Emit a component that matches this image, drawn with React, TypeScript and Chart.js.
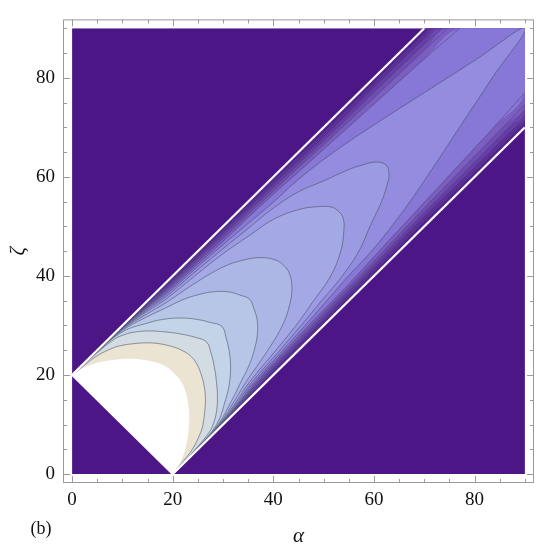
import React, { useEffect, useRef } from 'react';
import { Chart, registerables } from 'chart.js';
Chart.register(...registerables);

type P = [number, number];

// ---- axis ticks ----
const majorTicks = [0, 20, 40, 60, 80];
const minorTicks = [5, 10, 15, 25, 30, 35, 45, 50, 55, 65, 70, 75, 85, 90];
const axisMin = -1.8;
const axisMax = 91.8;

// ---- domain geometry (alpha, zeta) ----
const plotRect: P[] = [[0, 0], [90, 0], [90, 90], [0, 90]];
const band: P[] = [[0, 20], [70, 90], [90, 90], [90, 70], [20, 0]];
const upperEdge: P[] = [[0, 20], [70, 90]];
const lowerEdge: P[] = [[20, 0], [90, 70]];
const cutEdge: P[] = [[0, 20], [20, 0]];
const topRightCorner: P = [90, 90];

// ---- contour levels (outermost L1 -> innermost L14), upper and lower branches ----
const L1_up: P[] = [[0,20],[5,24.98],[10,29.93],[15,34.75],[18.5,38.1],[25,44.45],[30,49.4],[35,54.32],[40,59.25],[45,64.15],[52,71],[60,79.05],[70,89],[71,90]];
const L1_lo: P[] = [[90,71],[89,70],[79.05,60],[71,52],[64.15,45],[59.25,40],[54.32,35],[49.4,30],[44.45,25],[38.1,18.5],[34.75,15],[29.93,10],[24.98,5],[20,0]];
const L2_up: P[] = [[0,20],[5,24.96],[10,29.86],[15,34.5],[18.5,37.7],[25,43.9],[30,48.8],[35,53.65],[40,58.5],[45,63.3],[52,70],[60,78.1],[70,88],[72,90]];
const L2_lo: P[] = [[90,72],[88,70],[78.1,60],[70,52],[63.3,45],[58.5,40],[53.65,35],[48.8,30],[43.9,25],[37.7,18.5],[34.5,15],[29.86,10],[24.96,5],[20,0]];
const L3_up: P[] = [[0,20],[5,24.94],[10,29.79],[15,34.25],[18.5,37.3],[25,43.4],[30,48.2],[35,53],[40,57.8],[45,62.6],[52,69.2],[60,77.1],[70,86.8],[73.3,90]];
const L3_lo: P[] = [[90,73.3],[86.8,70],[77.1,60],[69.2,52],[62.6,45],[57.8,40],[53,35],[48.2,30],[43.4,25],[37.3,18.5],[34.25,15],[29.79,10],[24.94,5],[20,0]];
const L4_up: P[] = [[0,20],[5,24.92],[10,29.72],[15,34],[18.5,36.9],[25,42.9],[30,47.6],[35,52.4],[40,57.15],[45,61.9],[52,68.4],[60,76],[70,85.6],[74.6,90]];
const L4_lo: P[] = [[90,74.6],[85.6,70],[76,60],[68.4,52],[61.9,45],[57.15,40],[52.4,35],[47.6,30],[42.9,25],[36.9,18.5],[34,15],[29.72,10],[24.92,5],[20,0]];
const L5_up: P[] = [[0,20],[5,24.9],[10,29.65],[15,33.8],[18.5,36.5],[25,42.4],[30,47],[35,51.8],[40,56.5],[45,61],[52,67.4],[60,74.7],[70,83.8],[77,90]];
const L5_lo: P[] = [[90,77],[83.8,70],[74.7,60],[67.4,52],[61,45],[56.5,40],[51.8,35],[47,30],[42.4,25],[36.5,18.5],[33.8,15],[29.65,10],[24.9,5],[20,0]];
const L6_up: P[] = [[0,20],[5,24.88],[10,29.55],[15,33.55],[18.5,36.1],[25,41.9],[30,46.3],[35,50.6],[40,54.9],[45,59.5],[52,65],[60,70.5],[70,77],[80,83.5],[90,90]];
const L6_lo: P[] = [[90,90],[83.5,80],[77,70],[70.5,60],[65,52],[59.5,45],[54.9,40],[50.6,35],[46.3,30],[41.9,25],[36.1,18.5],[33.55,15],[29.55,10],[24.88,5],[20,0]];
const L7_up: P[] = [[0,20],[5,24.86],[10,29.45],[15,33.25],[18.5,35.7],[25,41.3],[30,45.5],[35,49.6],[40,53.7],[45,57],[50,59.2],[55,61.5],[58,62.5],[60.5,63],[62.4,62.4]];
const L7_lo: P[] = [[63,60.5],[62.5,58],[61.5,55],[59.2,50],[57,45],[53.7,40],[49.6,35],[45.5,30],[41.3,25],[35.7,18.5],[33.25,15],[29.45,10],[24.86,5],[20,0]];
const L8_up: P[] = [[0,20],[5,24.84],[10,29.35],[15,32.9],[18.5,35.2],[25,40.5],[30,44.5],[35,48],[40,51.4],[45,53.4],[49,54],[51.6,53.9],[53,53]];
const L8_lo: P[] = [[53.9,51.6],[54,49],[53.4,45],[51.4,40],[48,35],[44.5,30],[40.5,25],[35.2,18.5],[32.9,15],[29.35,10],[24.84,5],[20,0]];
const L9_up: P[] = [[0,20],[5,24.78],[10,29.2],[15,32.4],[18.5,34.5],[25,38.9],[30,41.8],[34,43.2],[37.5,43.7],[40.5,43.2],[42.1,42.1]];
const L9_lo: P[] = [[43.2,40.5],[43.7,37.5],[43.2,34],[41.8,30],[38.9,25],[34.5,18.5],[32.4,15],[29.2,10],[24.78,5],[20,0]];
const L10_up: P[] = [[0,20],[5,24.72],[10,29],[15,31.8],[18.5,33.5],[22,35.2],[25,36.2],[28,36.8],[31,36.8],[33.5,36.1],[35.3,35.3]];
const L10_lo: P[] = [[36.1,33.5],[36.8,31],[36.8,28],[36.2,25],[35.2,22],[33.5,18.5],[31.8,15],[29,10],[24.72,5],[20,0]];
const L11_up: P[] = [[0,20],[5,24.65],[10,28.7],[15,30.5],[18.5,31.3],[22,31.5],[25,31.2],[27.5,30.6],[29.8,29.8]];
const L11_lo: P[] = [[30.6,27.5],[31.2,25],[31.5,22],[31.3,18.5],[30.5,15],[28.7,10],[24.65,5],[20,0]];
const L12_up: P[] = [[0,20],[5,24.5],[8.5,27.3],[10,28],[12,28.6],[15.2,28.9],[18.5,28.7],[21.5,28.3],[24.5,27.6],[26.7,26.7]];
const L12_lo: P[] = [[27.6,24.5],[28.3,21.5],[28.7,18.5],[28.9,15.2],[28.6,12],[28,10],[27.3,8.5],[24.5,5],[20,0]];
const L13_up: P[] = [[0,20],[2,21.6],[5,23.9],[8.5,25.6],[10,26],[12,26.3],[15,26.5],[17.5,26.3],[20,25.7],[22,24.9],[23.7,23.7]];
const L13_lo: P[] = [[24.9,22],[25.7,20],[26.3,17.5],[26.5,15],[26.3,12],[26,10],[25.6,8.5],[23.9,5],[21.6,2],[20,0]];
const L14_up: P[] = [[0,20],[1.5,21],[3,21.8],[5.5,22.6],[8.5,23.1],[11.5,23.3],[14,23.1],[16.5,22.6],[18.5,21.8],[20.3,20.3]];
const L14_lo: P[] = [[21.8,18.5],[22.6,16.5],[23.1,14],[23.3,11.5],[23.1,8.5],[22.6,5.5],[21.8,3],[21,1.5],[20,0]];

// ---- colours ----
const outsideColor = '#4c1687';
const bandColors = [
  '#531f90', // edge .. L1
  '#5c2d9c', // L1 .. L2
  '#663ca8', // L2 .. L3
  '#714cb5', // L3 .. L4
  '#7c5ec3', // L4 .. L5
  '#8777d7', // L5 .. L6
  '#948ddf', // L6 .. L7
  '#9b9ae3', // L7 .. L8
  '#a4a9e5', // L8 .. L9
  '#adb7e6', // L9 .. L10
  '#b7c6e7', // L10 .. L11
  '#c3d3e8', // L11 .. L12
  '#d4dce3', // L12 .. L13
  '#ece4d3', // L13 .. L14
  '#ffffff', // inside L14 (no value)
];
const contourLineColor = 'rgba(70,72,92,0.55)';
const edgeColor = '#ffffff';

const levels: { up: P[]; lo: P[]; line: boolean }[] = [
  { up: L1_up, lo: L1_lo, line: true },
  { up: L2_up, lo: L2_lo, line: true },
  { up: L3_up, lo: L3_lo, line: true },
  { up: L4_up, lo: L4_lo, line: true },
  { up: L5_up, lo: L5_lo, line: true },
  { up: L6_up, lo: L6_lo, line: true },
  { up: L7_up, lo: L7_lo, line: true },
  { up: L8_up, lo: L8_lo, line: true },
  { up: L9_up, lo: L9_lo, line: true },
  { up: L10_up, lo: L10_lo, line: true },
  { up: L11_up, lo: L11_lo, line: true },
  { up: L12_up, lo: L12_lo, line: true },
  { up: L13_up, lo: L13_lo, line: true },
  { up: L14_up, lo: L14_lo, line: false },
];

const toXY = (pts: P[]) => pts.map(([x, y]) => ({ x, y }));

function closedLevel(up: P[], lo: P[]): P[] {
  const out: P[] = [...up];
  const last = up[up.length - 1];
  const first = lo[0];
  if (last[1] === 90 && first[0] === 90 && last[0] < 90) out.push(topRightCorner);
  for (const p of lo) {
    const q = out[out.length - 1];
    if (q[0] === p[0] && q[1] === p[1]) continue;
    out.push(p);
  }
  return out;
}

// full curve of one level (upper branch joined to lower branch), for the grey line
function fullCurve(up: P[], lo: P[]): P[][] {
  const last = up[up.length - 1];
  const first = lo[0];
  if (last[1] === 90 && first[0] === 90 && last[0] < 90) return [up, lo];
  const out: P[] = [...up];
  for (const p of lo) {
    const q = out[out.length - 1];
    if (q[0] === p[0] && q[1] === p[1]) continue;
    out.push(p);
  }
  return [out];
}

const TENSION = 0.4;

function buildDatasets() {
  const seq: any[] = [];
  const fillSet = (pts: P[], color: string, tension: number) => ({
    data: toXY(pts),
    fill: 'shape',
    backgroundColor: color,
    borderColor: 'rgba(0,0,0,0)',
    borderWidth: 0,
    pointRadius: 0,
    pointHoverRadius: 0,
    tension,
  });
  const lineSet = (pts: P[], color: string, width: number, tension: number) => ({
    data: toXY(pts),
    fill: false,
    backgroundColor: 'rgba(0,0,0,0)',
    borderColor: color,
    borderWidth: width,
    pointRadius: 0,
    pointHoverRadius: 0,
    tension,
  });
  seq.push(fillSet(plotRect, outsideColor, 0));
  seq.push(fillSet(band, bandColors[0], 0));
  levels.forEach((lv, i) => {
    seq.push(fillSet(closedLevel(lv.up, lv.lo), bandColors[i + 1], TENSION));
  });
  levels.forEach((lv) => {
    if (!lv.line) return;
    for (const part of fullCurve(lv.up, lv.lo)) seq.push(lineSet(part, contourLineColor, 1, TENSION));
  });
  seq.push(lineSet(upperEdge, edgeColor, 2.2, 0));
  seq.push(lineSet(lowerEdge, edgeColor, 2.2, 0));
  seq.push(lineSet(cutEdge, edgeColor, 2, 0));
  const n = seq.length;
  return seq.map((d, i) => ({ ...d, order: n - i }));
}

const SERIF = "'Liberation Serif', 'Times New Roman', 'DejaVu Serif', serif";

const clipPlugin = {
  id: 'dataClip',
  beforeDatasetsDraw(chart: any) {
    const { ctx, scales } = chart;
    const x = scales.x, y = scales.y;
    const l = x.getPixelForValue(plotRect[0][0]);
    const r = x.getPixelForValue(plotRect[2][0]);
    const t = y.getPixelForValue(plotRect[2][1]);
    const b = y.getPixelForValue(plotRect[0][1]);
    ctx.save();
    ctx.beginPath();
    ctx.rect(l, t, r - l, b - t);
    ctx.clip();
  },
  afterDatasetsDraw(chart: any) {
    chart.ctx.restore();
  },
};

const framePlugin = {
  id: 'frame',
  afterDraw(chart: any) {
    const { ctx, chartArea: a, scales } = chart;
    const x = scales.x, y = scales.y;
    ctx.save();
    ctx.strokeStyle = '#9a9a9a';
    ctx.lineWidth = 1;
    ctx.strokeRect(a.left + 0.5, a.top + 0.5, a.right - a.left - 1, a.bottom - a.top - 1);
    ctx.beginPath();
    const all = [...majorTicks.map((v) => [v, 7]), ...minorTicks.map((v) => [v, 4])];
    for (const [v, len] of all) {
      const px = Math.round(x.getPixelForValue(v)) + 0.5;
      ctx.moveTo(px, a.bottom);
      ctx.lineTo(px, a.bottom - len);
      ctx.moveTo(px, a.top);
      ctx.lineTo(px, a.top + len);
      const py = Math.round(y.getPixelForValue(v)) + 0.5;
      ctx.moveTo(a.left, py);
      ctx.lineTo(a.left + len, py);
      ctx.moveTo(a.right, py);
      ctx.lineTo(a.right - len, py);
    }
    ctx.stroke();

    ctx.fillStyle = '#111';
    ctx.textAlign = 'center';
    ctx.textBaseline = 'middle';
    ctx.font = `italic 21px ${SERIF}`;
    ctx.fillText('α', (a.left + a.right) / 2, 536);
    ctx.save();
    ctx.translate(18, (a.top + a.bottom) / 2);
    ctx.rotate(-Math.PI / 2);
    ctx.fillText('ζ', 0, 0);
    ctx.restore();
    ctx.font = `18px ${SERIF}`;
    ctx.fillText('(b)', 41, 529);
    ctx.restore();
  },
};

export default function App() {
  const ref = useRef<HTMLCanvasElement | null>(null);
  useEffect(() => {
    if (!ref.current) return;
    const tickFont = { family: SERIF, size: 19 };
    const chart = new Chart(ref.current, {
      type: 'line',
      data: { datasets: buildDatasets() },
      options: {
        animation: false,
        responsive: false,
        events: [],
        layout: { padding: { top: 13, right: 9, left: 0, bottom: 0 } },
        plugins: { legend: { display: false }, tooltip: { enabled: false } },
        scales: {
          x: {
            type: 'linear',
            min: axisMin,
            max: axisMax,
            afterBuildTicks: (s: any) => { s.ticks = majorTicks.map((v) => ({ value: v })); },
            afterFit: (s: any) => { s.height = 67; },
            grid: { display: false, drawTicks: false },
            border: { display: false },
            ticks: { font: tickFont, color: '#111', padding: 6, maxRotation: 0, autoSkip: false },
          },
          y: {
            type: 'linear',
            min: axisMin,
            max: axisMax,
            afterBuildTicks: (s: any) => { s.ticks = majorTicks.map((v) => ({ value: v })); },
            afterFit: (s: any) => { s.width = 63; },
            grid: { display: false, drawTicks: false },
            border: { display: false },
            ticks: { font: tickFont, color: '#111', padding: 8, autoSkip: false },
          },
        },
      } as any,
      plugins: [clipPlugin, framePlugin],
    });
    return () => chart.destroy();
  }, []);
  return (
    <div style={{ position: 'fixed', left: 0, top: 0, width: 543, height: 550, background: '#fff' }}>
      <canvas ref={ref} width={543} height={550} style={{ display: 'block' }} />
    </div>
  );
}
